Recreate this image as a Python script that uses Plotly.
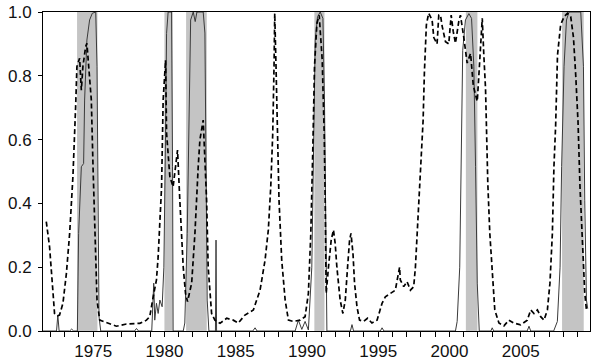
import plotly.graph_objects as go

# Recession bands (start, end) in decimal years
rec_start = [1973.87, 1980.0, 1981.52, 1990.52, 2001.15, 2007.9]
rec_end = [1975.30, 1980.58, 1982.97, 1991.23, 2001.96, 2009.42]

# Solid series (probability)
solid_x = [1971.48, 1972.29, 1972.43, 1972.52, 1972.61, 1973.35, 1973.49, 1973.63, 1973.89,
           1973.98, 1974.17, 1974.33, 1974.40, 1974.56, 1974.75, 1974.94, 1975.18, 1975.27,
           1975.34, 1975.41, 1975.53, 1977.9, 1978.04, 1978.18, 1979.11, 1979.25, 1979.32,
           1979.44, 1979.56, 1979.68, 1979.84, 1979.96, 1980.08, 1980.15, 1980.26, 1980.50,
           1980.57, 1980.61, 1981.32, 1981.43, 1981.60, 1981.72, 1981.84, 1982.02, 1982.16,
           1982.28, 1982.72, 1982.84, 1982.91, 1983.00, 1983.12, 1983.58, 1983.62, 1983.66,
           1986.2, 1986.36, 1986.5, 1989.17, 1989.40, 1989.64, 1989.87, 1990.10, 1990.34,
           1990.46, 1990.58, 1990.74, 1990.93, 1991.12, 1991.23, 1991.33, 1991.40, 1993.05,
           1993.16, 1993.27, 1995.15, 1995.27, 1995.4, 2000.42, 2000.54, 2000.72, 2000.82,
           2000.93, 2001.12, 2001.36, 2001.55, 2001.71, 2001.83, 2001.95, 2002.09, 2002.9,
           2003.00, 2003.1, 2005.45, 2005.58, 2005.7, 2007.31, 2007.57, 2007.76, 2007.87,
           2008.04, 2008.21, 2008.39, 2009.21, 2009.40, 2009.49, 2009.61, 2009.70]
solid_y = [0.0, 0.0, 0.0, 0.05, 0.0, 0.0, 0.006, 0.0, 0.0,
           0.306, 0.515, 0.525, 0.724, 0.912, 0.975, 0.996, 1.0, 0.83,
           0.41, 0.045, 0.0, 0.0, 0.008, 0.0, 0.0, 0.15, 0.034,
           0.087, 0.055, 0.097, 0.076, 0.2, 0.62, 0.933, 1.0, 1.0,
           0.515, 0.0, 0.0, 0.025, 0.306, 0.724, 0.975, 1.0, 0.97,
           1.0, 1.0, 0.934, 0.515, 0.097, 0.0, 0.0, 0.285, 0.0,
           0.0, 0.01, 0.0, 0.0, 0.034, 0.005, 0.03, 0.003, 0.2,
           0.62, 0.912, 0.985, 1.0, 0.98, 0.724, 0.306, 0.0, 0.0,
           0.02, 0.0, 0.0, 0.01, 0.0, 0.0, 0.03, 0.2, 0.515,
           0.88, 0.975, 0.995, 0.98, 0.83, 0.515, 0.15, 0.0, 0.0,
           0.01, 0.0, 0.0, 0.015, 0.0, 0.0, 0.03, 0.2, 0.515,
           0.83, 0.975, 1.0, 1.0, 0.83, 0.41, 0.097, 0.07]

# Dashed series
dash_x = [1971.71, 1971.94, 1972.17, 1972.29, 1972.50, 1972.64, 1972.88, 1973.12, 1973.35,
          1973.58, 1973.77, 1973.86, 1974.05, 1974.17, 1974.28, 1974.47, 1974.56, 1974.68,
          1974.87, 1974.99, 1975.11, 1975.27, 1975.46, 1976.16, 1976.63, 1977.33, 1978.27,
          1978.74, 1978.97, 1979.21, 1979.44, 1979.56, 1979.68, 1979.80, 1979.91, 1980.08,
          1980.15, 1980.38, 1980.61, 1980.92, 1981.08, 1981.32, 1981.48, 1981.62, 1981.91,
          1982.14, 1982.37, 1982.49, 1982.72, 1982.96, 1983.07, 1983.31, 1983.54, 1983.90,
          1984.37, 1984.83, 1985.18, 1985.65, 1986.24, 1986.71, 1987.06, 1987.29, 1987.46,
          1987.60, 1987.69, 1987.74, 1987.83, 1987.93, 1988.04, 1988.23, 1988.47, 1988.70,
          1989.05, 1989.52, 1989.87, 1990.10, 1990.27, 1990.41, 1990.53, 1990.70, 1990.86,
          1991.07, 1991.21, 1991.28, 1991.35, 1991.51, 1991.70, 1991.86, 1991.98, 1992.10,
          1992.33, 1992.52, 1992.69, 1992.85, 1992.99, 1993.09, 1993.23, 1993.34, 1993.51,
          1993.69, 1993.97, 1994.25, 1994.56, 1994.92, 1995.27, 1995.50, 1995.85, 1996.20,
          1996.50, 1996.55, 1996.79, 1997.02, 1997.26, 1997.49, 1997.61, 1997.73, 1997.84,
          1998.01, 1998.15, 1998.24, 1998.38, 1998.54, 1998.78, 1998.90, 1999.13, 1999.25,
          1999.37, 1999.49, 1999.72, 1999.95, 2000.12, 2000.26, 2000.42, 2000.65, 2000.77,
          2001.00, 2001.24, 2001.48, 2001.67, 2001.83, 2001.95, 2002.06, 2002.18, 2002.30,
          2002.41, 2002.53, 2002.60, 2002.69, 2002.83, 2003.00, 2003.18, 2003.47, 2003.82,
          2004.17, 2004.52, 2004.99, 2005.46, 2005.70, 2005.93, 2006.17, 2006.40, 2006.63,
          2006.87, 2007.05, 2007.22, 2007.33, 2007.45, 2007.58, 2007.80, 2008.04, 2008.28,
          2008.51, 2008.70, 2008.86, 2009.02, 2009.16, 2009.33, 2009.49, 2009.61]
dash_y = [0.343, 0.264, 0.128, 0.055, 0.048, 0.05, 0.087, 0.18, 0.306,
          0.484, 0.703, 0.829, 0.855, 0.755, 0.829, 0.891, 0.902, 0.83,
          0.724, 0.515, 0.306, 0.097, 0.034, 0.024, 0.015, 0.022, 0.024,
          0.034, 0.045, 0.107, 0.16, 0.233, 0.37, 0.452, 0.724, 0.849,
          0.62, 0.484, 0.452, 0.567, 0.41, 0.2, 0.118, 0.092, 0.15,
          0.306, 0.515, 0.6, 0.661, 0.41, 0.2, 0.055, 0.034, 0.024,
          0.04, 0.034, 0.025, 0.05, 0.066, 0.128, 0.222, 0.317, 0.452,
          0.62, 0.829, 0.996, 0.83, 0.62, 0.41, 0.222, 0.097, 0.034,
          0.03, 0.034, 0.045, 0.118, 0.306, 0.567, 0.829, 0.965, 0.99,
          0.85, 0.62, 0.41, 0.118, 0.2, 0.285, 0.317, 0.275, 0.2,
          0.097, 0.055, 0.097, 0.2, 0.285, 0.306, 0.243, 0.15, 0.076,
          0.034, 0.03, 0.04, 0.025, 0.034, 0.087, 0.107, 0.118, 0.128,
          0.2, 0.16, 0.139, 0.155, 0.128, 0.139, 0.2, 0.306, 0.43,
          0.567, 0.66, 0.81, 0.96, 0.996, 0.975, 0.92, 0.90, 0.99,
          0.99, 0.955, 0.907, 0.90, 0.99, 0.94, 0.902, 0.97, 0.99,
          0.922, 0.84, 0.87, 0.77, 0.74, 0.72, 0.80, 0.90, 0.98,
          0.865, 0.76, 0.63, 0.463, 0.306, 0.17, 0.066, 0.025, 0.016,
          0.034, 0.025, 0.019, 0.034, 0.066, 0.055, 0.066, 0.045, 0.034,
          0.066, 0.15, 0.306, 0.515, 0.645, 0.865, 0.96, 0.985, 0.996,
          0.985, 0.92, 0.8, 0.655, 0.45, 0.25, 0.12, 0.066]

year_ticks = [1975, 1980, 1985, 1990, 1995, 2000, 2005]
y_ticks = [0.0, 0.2, 0.4, 0.6, 0.8, 1.0]

fig = go.Figure()

for s, e in zip(rec_start, rec_end):
    fig.add_shape(type="rect", xref="x", yref="y", x0=s, x1=e, y0=0, y1=1,
                  fillcolor="#c4c4c4", line=dict(width=0), layer="below")

fig.add_trace(go.Scatter(x=solid_x, y=solid_y, mode="lines",
                         line=dict(color="#3a3a3a", width=1), showlegend=False))
fig.add_trace(go.Scatter(x=dash_x, y=dash_y, mode="lines",
                         line=dict(color="black", width=1.7, dash="5px,3px"),
                         showlegend=False))

font = dict(family="Liberation Sans, Arial, sans-serif", size=17, color="#111111")

fig.update_layout(
    template="none",
    width=600, height=362, autosize=False,
    margin=dict(l=43, r=10, t=12, b=31, pad=0, autoexpand=False),
    paper_bgcolor="white", plot_bgcolor="white",
    font=font,
    showlegend=False,
    xaxis=dict(range=[1971.48, 2009.86], tickvals=year_ticks,
               ticktext=[str(v) for v in year_ticks], automargin=False,
               ticks="outside", ticklen=5, tickcolor="black", tickwidth=1,
               showline=True, linecolor="black", linewidth=1, mirror=True,
               showgrid=False, zeroline=False,
               minor=dict(dtick=1, tick0=1971, ticks="outside", ticklen=5,
                          tickcolor="black", showgrid=False)),
    yaxis=dict(range=[0, 1], tickvals=y_ticks, automargin=False,
               ticktext=["%.1f" % v for v in y_ticks], ticklabelstandoff=3,
               ticks="outside", ticklen=4, tickcolor="black", tickwidth=1,
               showline=True, linecolor="black", linewidth=1, mirror=True,
               showgrid=False, zeroline=False),
)

fig.write_html("out.html", config={"displayModeBar": False},
               post_script="document.body.style.margin='0px';")
